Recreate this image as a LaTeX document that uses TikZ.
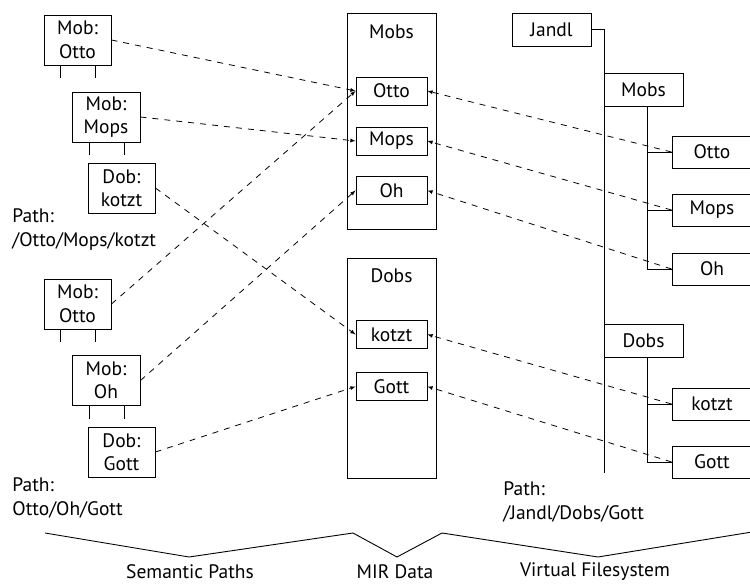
\documentclass[tikz,border=0pt]{standalone}
\usepackage{fontspec}
\setmainfont{PT Sans}
\usepackage{tikz}
\tikzset{>=latex}
\tikzset{
  obj/.style={draw, line width=0.9pt, inner sep=0pt, minimum width=67pt, minimum height=50pt, align=center},
  ent/.style={draw, line width=0.9pt, inner sep=0pt, minimum width=71pt, minimum height=28pt},
  dir/.style={draw, line width=0.9pt, inner sep=0pt, minimum width=79pt, minimum height=33pt},
  link/.style={->, dashed, dash pattern=on 6pt off 6pt, line width=0.8pt},
}

\begin{document}
\begin{tikzpicture}[x=1pt, y=-1pt, font=\fontsize{19.5}{23.5}\selectfont, line width=0.9pt]
            \useasboundingbox (0,0) rectangle (750,585);
            \clip (0,0) rectangle (750,585);
            % semantic paths
            \node[obj] (lotto1) at (77.5,40) {Mob:\\Otto};
            \node[obj, minimum width=68pt] (lmops) at (106,117) {Mob:\\Mops};
            \node[obj] (lkotzt) at (121.5,188) {Dob:\\kotzt};
            \node[obj] (lotto2) at (77.5,304) {Mob:\\Otto};
            \node[obj, minimum width=68pt] (loh) at (106,380.5) {Mob:\\Oh};
            \node[obj] (lgott) at (121.5,452) {Dob:\\Gott};
            \foreach \n in {lotto1,lmops,lotto2,loh} {
                \draw ([xshift=-17pt]\n.south) -- ++(0,13);
                \draw ([xshift=18pt]\n.south) -- ++(0,13);
            }
            \node[anchor=west, align=left, inner sep=0pt] (path1) at (12,229.5) {Path:\\/Otto/Mops/kotzt};
            \node[anchor=west, align=left, inner sep=0pt] (path2) at (12,498) {Path:\\Otto/Oh/Gott};
            % MIR data
            \node[draw, minimum width=89pt, minimum height=216pt] (mobs) at (391.5,121) {};
            \node (mobslbl) at (391.5,32) {Mobs};
            \node[ent] (motto) at (391.5,91) {Otto};
            \node[ent] (mmops) at (391.5,141) {Mops};
            \node[ent] (moh) at (391.5,190.5) {Oh};
            \node[draw, minimum width=89pt, minimum height=220pt] (dobs) at (391.5,368) {};
            \node (dobslbl) at (391.5,276) {Dobs};
            \node[ent] (mkotzt) at (391.5,334.5) {kotzt};
            \node[ent] (mgott) at (391.5,386.5) {Gott};
            % virtual filesystem
            \node[dir] (jandl) at (551.5,29.5) {Jandl};
            \node[dir] (rmobs) at (643.5,89.5) {Mobs};
            \node[dir] (rdobs) at (643.5,341) {Dobs};
            \node[dir, minimum width=80pt, minimum height=32pt] (rotto) at (712,152) {Otto};
            \node[dir, minimum width=80pt, minimum height=32pt] (rmops) at (712,210) {Mops};
            \node[dir, minimum width=80pt, minimum height=32pt] (roh) at (712,269) {Oh};
            \node[dir, minimum width=80pt, minimum height=32pt] (rkotzt) at (712,404) {kotzt};
            \node[dir, minimum width=80pt, minimum height=32pt] (rgott) at (712,462) {Gott};
            \coordinate (trunk) at (604,473);
            \draw (jandl.east) -| (trunk);
            \foreach \n in {rotto,rmops,roh}
                \draw ([xshift=3.5pt]rmobs.south) |- (\n.west);
            \foreach \n in {rkotzt,rgott}
                \draw ([xshift=3.5pt]rdobs.south) |- (\n.west);
            \node[anchor=west, align=left, inner sep=0pt] (path3) at (503,502) {Path:\\/Jandl/Dobs/Gott};
            % links
            \draw[link] (lotto1.east) -- (motto.west);
            \draw[link] (lmops.east) -- (mmops.west);
            \draw[link] (lkotzt.east) -- (mkotzt.west);
            \draw[link] (lotto2.east) -- (motto.west);
            \draw[link] (loh.east) -- (moh.west);
            \draw[link] (lgott.east) -- (mgott.west);
            \foreach \a/\b in {rotto/motto,rmops/mmops,roh/moh,rkotzt/mkotzt,rgott/mgott}
                \draw[link] (\a.west) -- (\b.east);
            % braces
            \coordinate (b0) at (45,533);
            \coordinate (b1) at (189,557);
            \coordinate (b2) at (353,533);
            \coordinate (b3) at (397,557);
            \coordinate (b4) at (442,533);
            \coordinate (b5) at (598,557);
            \coordinate (b6) at (752,532);
            \draw (b0) -- (b1) -- (b2) -- (b3) -- (b4) -- (b5) -- (b6);
            \node (sem) at (190,572) {Semantic Paths};
            \node (mir) at (395,572) {MIR Data};
            \node (vfs) at (595,572) {Virtual Filesystem};
        \end{tikzpicture}
\end{document}
